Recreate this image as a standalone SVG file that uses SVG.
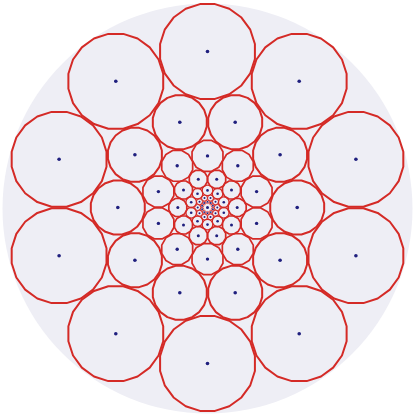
<svg xmlns="http://www.w3.org/2000/svg" width="413" height="416" viewBox="0 0 413 416">
<style>
.w5{stroke-width:2}
.w3{stroke-width:1.7}
.w1 circle{fill:none;stroke:#d42a26;stroke-width:1.3}
.w0 circle{fill:none;stroke:#d42a26;stroke-width:1}
.wm circle{fill:none;stroke:#d42a26;stroke-width:0.7}
.dot{fill:#1f1f7e}
</style>
<defs>
<polygon id="p20" fill="none" stroke="#d42a26" vector-effect="non-scaling-stroke" stroke-linejoin="round" points="0.9877,0.1564 0.8910,0.4540 0.7071,0.7071 0.4540,0.8910 0.1564,0.9877 -0.1564,0.9877 -0.4540,0.8910 -0.7071,0.7071 -0.8910,0.4540 -0.9877,0.1564 -0.9877,-0.1564 -0.8910,-0.4540 -0.7071,-0.7071 -0.4540,-0.8910 -0.1564,-0.9877 0.1564,-0.9877 0.4540,-0.8910 0.7071,-0.7071 0.8910,-0.4540 0.9877,-0.1564"/>
<polygon id="p12" fill="none" stroke="#d42a26" vector-effect="non-scaling-stroke" stroke-linejoin="round" points="0.9659,0.2588 0.7071,0.7071 0.2588,0.9659 -0.2588,0.9659 -0.7071,0.7071 -0.9659,0.2588 -0.9659,-0.2588 -0.7071,-0.7071 -0.2588,-0.9659 0.2588,-0.9659 0.7071,-0.7071 0.9659,-0.2588"/>
</defs>
<rect width="413" height="416" fill="#ffffff"/>
<circle id="disc" cx="207.5" cy="208.5" r="205" fill="#eeeef5"/>

<g id="ring5" class="w5">
<use href="#p20" transform="translate(207.5,51.5) scale(48)"/>
<use href="#p20" transform="translate(299.2,81.3) scale(48)"/>
<use href="#p20" transform="translate(355.9,159.3) scale(48)"/>
<use href="#p20" transform="translate(355.9,255.7) scale(48)"/>
<use href="#p20" transform="translate(299.2,333.7) scale(48)"/>
<use href="#p20" transform="translate(207.5,363.5) scale(48)"/>
<use href="#p20" transform="translate(115.8,333.7) scale(48)"/>
<use href="#p20" transform="translate(59.1,255.7) scale(48)"/>
<use href="#p20" transform="translate(59.1,159.3) scale(48)"/>
<use href="#p20" transform="translate(115.8,81.3) scale(48)"/>
</g>
<g id="ring4" class="w5">
<use href="#p20" transform="translate(297.2,207.5) scale(27.3)"/>
<use href="#p20" transform="translate(280.1,260.2) scale(27.3)"/>
<use href="#p20" transform="translate(235.2,292.8) scale(27.3)"/>
<use href="#p20" transform="translate(179.8,292.8) scale(27.3)"/>
<use href="#p20" transform="translate(134.9,260.2) scale(27.3)"/>
<use href="#p20" transform="translate(117.8,207.5) scale(27.3)"/>
<use href="#p20" transform="translate(134.9,154.8) scale(27.3)"/>
<use href="#p20" transform="translate(179.8,122.2) scale(27.3)"/>
<use href="#p20" transform="translate(235.2,122.2) scale(27.3)"/>
<use href="#p20" transform="translate(280.1,154.8) scale(27.3)"/>
</g>
<g id="ring3" class="w3">
<use href="#p12" transform="translate(207.5,155.9) scale(16)"/>
<use href="#p12" transform="translate(237.8,165.8) scale(16)"/>
<use href="#p12" transform="translate(256.6,191.6) scale(16)"/>
<use href="#p12" transform="translate(256.6,223.4) scale(16)"/>
<use href="#p12" transform="translate(237.8,249.2) scale(16)"/>
<use href="#p12" transform="translate(207.5,259.1) scale(16)"/>
<use href="#p12" transform="translate(177.2,249.2) scale(16)"/>
<use href="#p12" transform="translate(158.4,223.4) scale(16)"/>
<use href="#p12" transform="translate(158.4,191.6) scale(16)"/>
<use href="#p12" transform="translate(177.2,165.8) scale(16)"/>
</g>
<g id="ring2" class="w3">
<use href="#p12" transform="translate(237.2,207.5) scale(9.3)"/>
<use href="#p12" transform="translate(231.5,225.0) scale(9.3)"/>
<use href="#p12" transform="translate(216.7,235.7) scale(9.3)"/>
<use href="#p12" transform="translate(198.3,235.7) scale(9.3)"/>
<use href="#p12" transform="translate(183.5,225.0) scale(9.3)"/>
<use href="#p12" transform="translate(177.8,207.5) scale(9.3)"/>
<use href="#p12" transform="translate(183.5,190.0) scale(9.3)"/>
<use href="#p12" transform="translate(198.3,179.3) scale(9.3)"/>
<use href="#p12" transform="translate(216.7,179.3) scale(9.3)"/>
<use href="#p12" transform="translate(231.5,190.0) scale(9.3)"/>
</g>
<g id="ring1" class="w1">
<circle cx="207.5" cy="190.4" r="5.3"/>
<circle cx="217.6" cy="193.7" r="5.3"/>
<circle cx="223.8" cy="202.2" r="5.3"/>
<circle cx="223.8" cy="212.8" r="5.3"/>
<circle cx="217.6" cy="221.3" r="5.3"/>
<circle cx="207.5" cy="224.6" r="5.3"/>
<circle cx="197.5" cy="221.3" r="5.3"/>
<circle cx="191.2" cy="212.8" r="5.3"/>
<circle cx="191.2" cy="202.2" r="5.3"/>
<circle cx="197.5" cy="193.7" r="5.3"/>
</g>
<g id="ring0" class="w0">
<circle cx="217.3" cy="207.5" r="3"/>
<circle cx="215.5" cy="213.3" r="3"/>
<circle cx="210.5" cy="216.9" r="3"/>
<circle cx="204.5" cy="216.9" r="3"/>
<circle cx="199.5" cy="213.3" r="3"/>
<circle cx="197.7" cy="207.5" r="3"/>
<circle cx="199.5" cy="201.7" r="3"/>
<circle cx="204.5" cy="198.1" r="3"/>
<circle cx="210.5" cy="198.1" r="3"/>
<circle cx="215.5" cy="201.7" r="3"/>
</g>
<g id="ringm1" class="wm">
<circle cx="207.5" cy="201.85" r="1.7"/><circle cx="210.8" cy="203.0" r="1.7"/><circle cx="212.9" cy="205.75" r="1.7"/><circle cx="212.9" cy="209.25" r="1.7"/><circle cx="210.8" cy="212.1" r="1.7"/><circle cx="207.5" cy="213.15" r="1.7"/><circle cx="204.2" cy="212.1" r="1.7"/><circle cx="202.1" cy="209.25" r="1.7"/><circle cx="202.1" cy="205.75" r="1.7"/><circle cx="204.2" cy="203.0" r="1.7"/>
</g>

<g id="dots" class="dot">
<circle cx="207.5" cy="51.5" r="1.8"/><circle cx="299.2" cy="81.3" r="1.8"/><circle cx="355.9" cy="159.3" r="1.8"/><circle cx="355.9" cy="255.7" r="1.8"/><circle cx="299.2" cy="333.7" r="1.8"/><circle cx="207.5" cy="363.5" r="1.8"/><circle cx="115.8" cy="333.7" r="1.8"/><circle cx="59.1" cy="255.7" r="1.8"/><circle cx="59.1" cy="159.3" r="1.8"/><circle cx="115.8" cy="81.3" r="1.8"/>
<circle cx="297.2" cy="207.5" r="1.8"/><circle cx="280.1" cy="260.2" r="1.8"/><circle cx="235.2" cy="292.8" r="1.8"/><circle cx="179.8" cy="292.8" r="1.8"/><circle cx="134.9" cy="260.2" r="1.8"/><circle cx="117.8" cy="207.5" r="1.8"/><circle cx="134.9" cy="154.8" r="1.8"/><circle cx="179.8" cy="122.2" r="1.8"/><circle cx="235.2" cy="122.2" r="1.8"/><circle cx="280.1" cy="154.8" r="1.8"/>
<circle cx="207.5" cy="155.9" r="1.7"/><circle cx="237.8" cy="165.8" r="1.7"/><circle cx="256.6" cy="191.6" r="1.7"/><circle cx="256.6" cy="223.4" r="1.7"/><circle cx="237.8" cy="249.2" r="1.7"/><circle cx="207.5" cy="259.1" r="1.7"/><circle cx="177.2" cy="249.2" r="1.7"/><circle cx="158.4" cy="223.4" r="1.7"/><circle cx="158.4" cy="191.6" r="1.7"/><circle cx="177.2" cy="165.8" r="1.7"/>
<circle cx="237.2" cy="207.5" r="1.5"/><circle cx="231.5" cy="225.0" r="1.5"/><circle cx="216.7" cy="235.7" r="1.5"/><circle cx="198.3" cy="235.7" r="1.5"/><circle cx="183.5" cy="225.0" r="1.5"/><circle cx="177.8" cy="207.5" r="1.5"/><circle cx="183.5" cy="190.0" r="1.5"/><circle cx="198.3" cy="179.3" r="1.5"/><circle cx="216.7" cy="179.3" r="1.5"/><circle cx="231.5" cy="190.0" r="1.5"/>
<circle cx="207.5" cy="190.4" r="1.3"/><circle cx="217.6" cy="193.7" r="1.3"/><circle cx="223.8" cy="202.2" r="1.3"/><circle cx="223.8" cy="212.8" r="1.3"/><circle cx="217.6" cy="221.3" r="1.3"/><circle cx="207.5" cy="224.6" r="1.3"/><circle cx="197.5" cy="221.3" r="1.3"/><circle cx="191.2" cy="212.8" r="1.3"/><circle cx="191.2" cy="202.2" r="1.3"/><circle cx="197.5" cy="193.7" r="1.3"/>
<circle cx="217.3" cy="207.5" r="1"/><circle cx="215.5" cy="213.3" r="1"/><circle cx="210.5" cy="216.9" r="1"/><circle cx="204.5" cy="216.9" r="1"/><circle cx="199.5" cy="213.3" r="1"/><circle cx="197.7" cy="207.5" r="1"/><circle cx="199.5" cy="201.7" r="1"/><circle cx="204.5" cy="198.1" r="1"/><circle cx="210.5" cy="198.1" r="1"/><circle cx="215.5" cy="201.7" r="1"/>
<circle cx="207.5" cy="201.85" r="0.9"/><circle cx="210.8" cy="203.0" r="0.9"/><circle cx="212.9" cy="205.75" r="0.9"/><circle cx="212.9" cy="209.25" r="0.9"/><circle cx="210.8" cy="212.1" r="0.9"/><circle cx="207.5" cy="213.15" r="0.9"/><circle cx="204.2" cy="212.1" r="0.9"/><circle cx="202.1" cy="209.25" r="0.9"/><circle cx="202.1" cy="205.75" r="0.9"/><circle cx="204.2" cy="203.0" r="0.9"/>
<circle cx="207.5" cy="207.5" r="1.5"/>
</g>
</svg>
